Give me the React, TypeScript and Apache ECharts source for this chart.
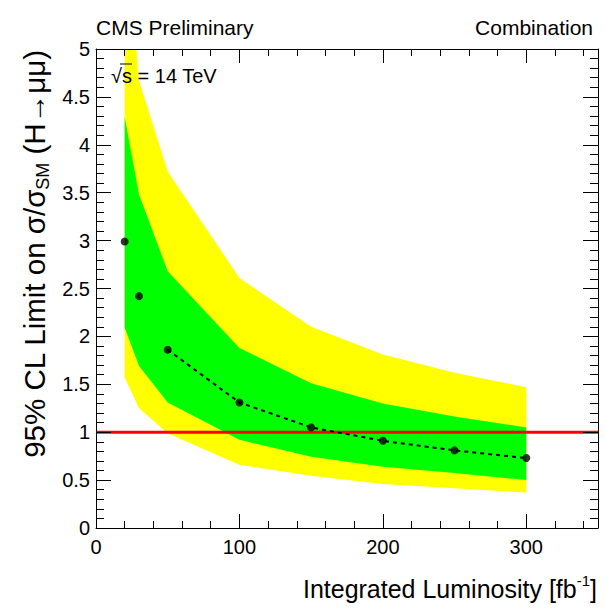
import React, { useEffect, useRef } from "react";
import * as echarts from "echarts";

// Integrated luminosity points [fb^-1]
const lumi = [20, 30, 50, 100, 150, 200, 250, 300];
// Median expected limit
const median = [2.99, 2.42, 1.86, 1.31, 1.05, 0.91, 0.81, 0.73];
const dottedFromIndex = 2;
// +-1 sigma band (green)
const green68Low = [2.09, 1.69, 1.31, 0.92, 0.745, 0.64, 0.575, 0.5];
const green68High = [4.29, 3.48, 2.68, 1.88, 1.51, 1.3, 1.165, 1.05];
// +-2 sigma band (yellow)
const yellow95Low = [1.57, 1.25, 0.99, 0.66, 0.545, 0.46, 0.415, 0.37];
const yellow95High = [6.5, 4.67, 3.72, 2.61, 2.1, 1.81, 1.62, 1.47];
// SM reference
const smValue = 1;
const xMin = 0;
const xMax = 350;
const yMin = 0;
const yMax = 5;

const FONT = "'Liberation Sans', Arial, Helvetica, sans-serif";

export default function App() {
  const ref = useRef<HTMLDivElement>(null);
  useEffect(() => {
    const chart = echarts.init(ref.current!, null, { renderer: "svg" });

    const pair = (xs: number[], ys: number[]) => xs.map((x, i) => [x, ys[i]]);

    const band = (lo: number[], hi: number[], color: string, z: number) => ({
      type: "custom",
      coordinateSystem: "cartesian2d",
      clip: true,
      silent: true,
      z,
      data: lumi.map((x, i) => [x, lo[i], hi[i]]),
      encode: { x: 0, y: [1, 2] },
      renderItem: (params: any, api: any) => {
        if (params.dataIndex !== 0) return null;
        const top = lumi.map((x, i) => api.coord([x, hi[i]]));
        const bot = lumi.map((x, i) => api.coord([x, lo[i]])).reverse();
        return {
          type: "polygon",
          shape: { points: top.concat(bot) },
          style: { fill: color, stroke: null },
        };
      },
    });

    const tickStyle = { color: "#000", width: 1 };
    const xCommon: any = {
      type: "value",
      min: xMin,
      max: xMax,
      splitLine: { show: false },
      z: 10,
    };
    const yCommon: any = {
      type: "value",
      min: yMin,
      max: yMax,
      interval: 0.5,
      splitLine: { show: false },
      z: 10,
    };
    const line = (show: boolean) => ({
      show,
      onZero: false,
      lineStyle: { color: "#000", width: 1 },
    });

    chart.setOption({
      animation: false,
      grid: { left: 96, right: 7, top: 49, bottom: 85 },
      xAxis: [
        {
          ...xCommon,
          position: "bottom",
          interval: 100,
          axisLine: line(true),
          axisTick: { show: true, inside: true, length: 14, lineStyle: tickStyle },
          axisLabel: {
            show: true,
            color: "#000",
            fontFamily: FONT,
            fontSize: 20,
            margin: 9,
            showMaxLabel: false,
          },
        },
        {
          ...xCommon,
          position: "bottom",
          interval: 20,
          axisLine: line(false),
          axisTick: { show: true, inside: true, length: 7, lineStyle: tickStyle },
          axisLabel: { show: false },
        },
        {
          ...xCommon,
          position: "top",
          interval: 100,
          axisLine: line(true),
          axisTick: { show: true, inside: true, length: 14, lineStyle: tickStyle },
          axisLabel: { show: false },
        },
        {
          ...xCommon,
          position: "top",
          interval: 20,
          axisLine: line(false),
          axisTick: { show: true, inside: true, length: 7, lineStyle: tickStyle },
          axisLabel: { show: false },
        },
      ],
      yAxis: [
        {
          ...yCommon,
          position: "left",
          axisLine: line(true),
          axisTick: { show: true, inside: true, length: 15, lineStyle: tickStyle },
          minorTick: { show: true, splitNumber: 5, length: 8, lineStyle: tickStyle },
          axisLabel: {
            show: true,
            color: "#000",
            fontFamily: FONT,
            fontSize: 20,
            margin: 6,
          },
        },
        {
          ...yCommon,
          position: "right",
          axisLine: line(true),
          axisTick: { show: true, inside: true, length: 15, lineStyle: tickStyle },
          minorTick: { show: true, splitNumber: 5, length: 8, lineStyle: tickStyle },
          axisLabel: { show: false },
        },
      ],
      series: [
        band(yellow95Low, yellow95High, "#ffff00", 1),
        band(green68Low, green68High, "#00ff00", 2),
        {
          type: "line",
          data: [
            [xMin, smValue],
            [xMax, smValue],
          ],
          symbol: "none",
          lineStyle: { color: "#ff0000", width: 3 },
          silent: true,
          z: 3,
        },
        {
          type: "line",
          data: pair(lumi.slice(dottedFromIndex), median.slice(dottedFromIndex)),
          symbol: "none",
          lineStyle: { color: "#000", width: 2, type: [4, 4] },
          silent: true,
          z: 4,
        },
        {
          type: "scatter",
          data: pair(lumi, median),
          symbol: "circle",
          symbolSize: 8,
          itemStyle: { color: "#000" },
          silent: true,
          z: 5,
        },
      ],
      graphic: [
        {
          type: "text",
          x: 96,
          y: 27,
          style: {
            text: "CMS Preliminary",
            fontFamily: FONT,
            fontSize: 21,
            fill: "#000",
            textAlign: "left",
            textVerticalAlign: "middle",
          },
        },
        {
          type: "text",
          x: 593,
          y: 27,
          style: {
            text: "Combination",
            fontFamily: FONT,
            fontSize: 21,
            fill: "#000",
            textAlign: "right",
            textVerticalAlign: "middle",
          },
        },
        {
          type: "text",
          x: 111,
          y: 76,
          z: 20,
          style: {
            text: "√s = 14 TeV",
            fontFamily: FONT,
            fontSize: 20,
            fill: "#000",
            textAlign: "left",
            textVerticalAlign: "middle",
          },
        },
        {
          type: "line",
          z: 20,
          shape: { x1: 120, y1: 64, x2: 132, y2: 64 },
          style: { stroke: "#000", lineWidth: 1 },
        },
        {
          type: "text",
          x: 597,
          y: 589,
          style: {
            text: "{a|Integrated Luminosity [fb}{s|-1}{a|]}",
            fill: "#000",
            textAlign: "right",
            textVerticalAlign: "middle",
            rich: {
              a: { fontFamily: FONT, fontSize: 25, lineHeight: 32, fill: "#000" },
              s: {
                fontFamily: FONT,
                fontSize: 15,
                lineHeight: 15,
                verticalAlign: "top",
                fill: "#000",
              },
            },
          },
        },
        {
          type: "text",
          x: 34,
          y: 50,
          rotation: Math.PI / 2,
          style: {
            text: "{a|95% CL Limit on σ/σ}{s|SM}{a| (H→μμ)}",
            fill: "#000",
            textAlign: "right",
            textVerticalAlign: "middle",
            rich: {
              a: { fontFamily: FONT, fontSize: 29.5, lineHeight: 36, fill: "#000" },
              s: {
                fontFamily: FONT,
                fontSize: 18,
                lineHeight: 18,
                verticalAlign: "bottom",
                fill: "#000",
              },
            },
          },
        },
      ],
    });
    return () => chart.dispose();
  }, []);
  return (
    <div
      ref={ref}
      style={{ position: "absolute", left: 0, top: 0, width: 605, height: 613 }}
    />
  );
}
